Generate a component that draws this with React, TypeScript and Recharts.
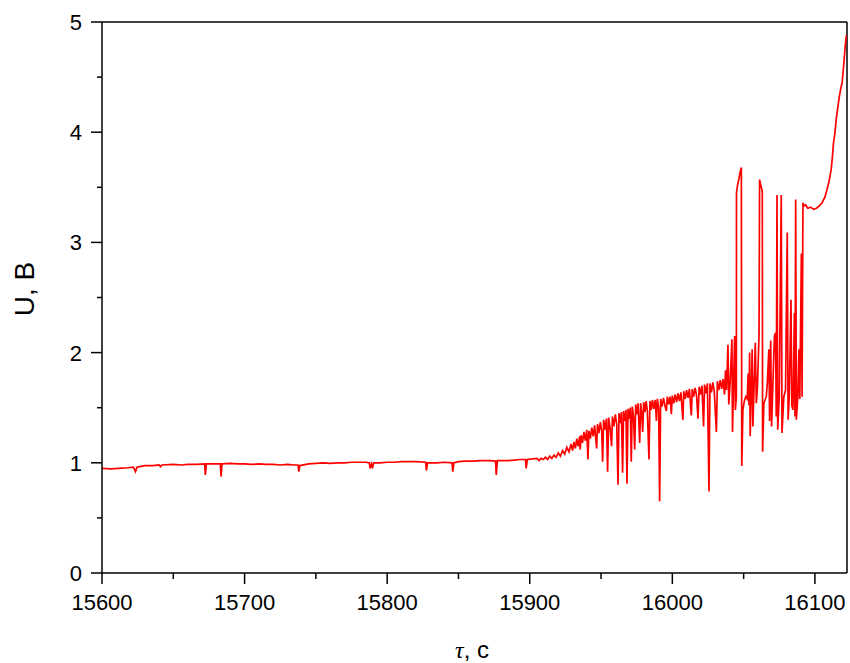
import React from "react";
import { LineChart, Line, XAxis, YAxis, ReferenceLine } from "recharts";

// [time (s), voltage (V)]
const plateauSeg: [number, number][] = [
  [15600, 0.95], [15606, 0.945], [15612, 0.95], [15618, 0.955], [15622, 0.96], [15623.5, 0.92], [15624.5, 0.96],
  [15630, 0.975], [15636, 0.975], [15640, 0.98], [15641, 0.965], [15642, 0.98], [15650, 0.985], [15656, 0.98],
  [15660, 0.985], [15666, 0.985], [15672, 0.99], [15672.5, 0.89], [15673.2, 0.99], [15678, 0.99], [15683, 0.99],
  [15683.5, 0.875], [15684.2, 0.99], [15690, 0.995], [15695, 0.99], [15700, 0.99], [15705, 0.985], [15710, 0.99],
  [15715, 0.985], [15720, 0.985], [15725, 0.98], [15730, 0.985], [15735, 0.98], [15737.5, 0.98], [15738, 0.92],
  [15738.8, 0.975], [15745, 0.99], [15750, 0.995], [15755, 1.0], [15760, 0.995], [15765, 1.0], [15770, 1.0],
  [15775, 1.005], [15780, 1.005], [15785, 1.005], [15787.5, 1.0], [15788, 0.95], [15789, 0.99], [15789.7, 0.95],
  [15790.5, 1.0], [15795, 1.0], [15800, 1.005], [15805, 1.005], [15810, 1.01], [15815, 1.01], [15820, 1.01],
  [15827, 1.005], [15827.5, 0.93], [15828.3, 1.0], [15835, 1.0], [15840, 1.005], [15845.5, 1.0], [15846, 0.92],
  [15846.8, 1.0], [15850, 1.01], [15855, 1.015], [15860, 1.015], [15865, 1.02], [15872, 1.02], [15876, 1.015],
  [15876.5, 0.89], [15877.3, 1.02], [15880, 1.02], [15885, 1.02], [15889, 1.025], [15893, 1.03], [15897, 1.03],
  [15897.5, 0.95], [15898.3, 1.03], [15902, 1.035],
];

const riseSeg: [number, number][] = [
  [15905, 1.04], [15906.5, 1.02], [15908, 1.04], [15909.5, 1.03], [15911, 1.05], [15912.5, 1.03], [15914, 1.06],
  [15915.5, 1.04], [15917, 1.07], [15918.5, 1.05], [15920, 1.09], [15921.5, 1.06], [15923, 1.11], [15924.5, 1.08],
  [15926, 1.14], [15927.5, 1.1], [15929, 1.17], [15930, 1.11], [15931, 1.19], [15932, 1.13], [15933, 1.22],
  [15934, 1.15], [15935, 1.24], [15935.4, 1.12], [15936, 1.25], [15937, 1.18], [15938, 1.28], [15939, 1.2],
  [15940, 1.3], [15940.8, 1.03], [15941.5, 1.29], [15942.5, 1.22], [15943.5, 1.32], [15944.5, 1.24], [15945.5, 1.34],
  [15946.9, 1.13], [15947.5, 1.35], [15948.5, 1.27], [15949.5, 1.37], [15950.5, 1.28], [15951.1, 1.01], [15951.8, 1.39],
  [15952.8, 1.3], [15953.8, 1.4], [15954.6, 0.92], [15955.3, 1.41], [15956.3, 1.32], [15957.4, 1.15], [15958, 1.42],
  [15959, 1.33], [15960, 1.44], [15961, 1.35], [15961.9, 0.8], [15962.6, 1.45], [15963.5, 1.36], [15964.3, 1.46],
  [15965.1, 0.91], [15965.8, 1.47], [15966.8, 1.38], [15967.5, 1.48], [15968.2, 0.81], [15968.9, 1.49], [15969.8, 1.4],
  [15970.5, 1.5], [15971.2, 1.01], [15971.9, 1.51], [15972.8, 1.42], [15973.6, 1.12], [15974.3, 1.53], [15975.2, 1.44],
  [15976, 1.54], [15977.1, 1.18], [15977.8, 1.54], [15978.5, 1.45], [15979.2, 1.28], [15979.9, 1.55], [15980.8, 1.46],
  [15981.6, 1.56], [15982.5, 1.47], [15983.6, 1.03], [15984.3, 1.56], [15985.2, 1.48], [15986, 1.57], [15987, 1.49],
  [15988, 1.57], [15988.8, 1.38], [15989.5, 1.58], [15990.4, 1.5], [15991.1, 0.65], [15991.8, 1.58], [15992.8, 1.51],
  [15993.8, 1.59], [15994.8, 1.52], [15995.8, 1.47], [15996.5, 1.6], [15997.5, 1.53], [15998.5, 1.6], [15999.3, 1.44],
  [16000, 1.61], [16001, 1.54], [16002, 1.62], [16003, 1.55], [16004, 1.63], [16005, 1.56], [16006, 1.64],
  [16007.4, 1.39], [16008, 1.65], [16009, 1.58], [16010, 1.66], [16011, 1.59], [16012, 1.67], [16013.3, 1.43],
  [16014, 1.67], [16015, 1.6], [16016, 1.68], [16017, 1.61], [16018, 1.4], [16018.8, 1.69], [16019.8, 1.62],
  [16020.8, 1.7], [16021.9, 1.33], [16022.6, 1.71], [16023.6, 1.63], [16024.6, 1.72], [16025.7, 0.74], [16026.4, 1.72],
  [16027.4, 1.64], [16028.4, 1.73], [16029.4, 1.65], [16030.9, 1.28], [16031.6, 1.74], [16032.6, 1.66], [16033.6, 1.75],
  [16034.6, 1.67], [16035.6, 1.76],
];

const burstSeg: [number, number][] = [
  [16036.6, 1.62], [16037.3, 1.84], [16038, 1.66], [16039, 2.07], [16039.6, 1.53], [16040.5, 1.72], [16041.8, 2.12],
  [16042.2, 1.28], [16042.9, 1.7], [16043.7, 2.15], [16044.2, 1.48], [16044.9, 1.6], [16045, 3.45], [16045.5, 3.5],
  [16046.2, 3.55], [16046.8, 3.58], [16047.4, 3.63], [16048, 3.66], [16048.4, 3.68], [16048.7, 0.97], [16049.5, 1.48],
  [16050.5, 1.56], [16051.5, 1.6], [16052.5, 1.58], [16053.2, 1.81], [16053.8, 1.52], [16054.2, 2.0], [16054.6, 1.24],
  [16055.3, 1.62], [16056, 2.03], [16056.5, 1.33], [16057.2, 1.64], [16058.2, 2.09], [16058.9, 1.54], [16059.6, 1.66],
  [16060.8, 2.15], [16061.2, 3.57], [16062, 3.52], [16062.6, 3.49], [16063.1, 3.46], [16063.3, 1.1], [16064.2, 1.54],
  [16065.9, 1.6], [16066.6, 1.72], [16067.7, 2.03], [16068.2, 1.38], [16069, 2.11], [16069.6, 1.33], [16070.4, 1.66],
  [16071.6, 2.15], [16072.4, 2.18], [16072.9, 1.42], [16073.4, 3.43], [16073.9, 1.3], [16075, 1.6], [16076.4, 3.43],
  [16076.9, 1.27], [16078.2, 1.6], [16079.4, 1.66], [16080.6, 3.09], [16081.2, 1.39], [16082, 1.6], [16083.2, 2.48],
  [16083.8, 1.52], [16084.6, 1.48], [16085.6, 2.36], [16086, 1.42], [16086.5, 3.39], [16087, 1.39], [16088, 1.6],
  [16088.8, 2.03], [16089.4, 1.58], [16090.5, 2.9], [16091, 1.6], [16091.6, 3.36],
];

const finalSeg: [number, number][] = [
  [16092.2, 3.33], [16093.5, 3.34], [16095, 3.31], [16097, 3.32], [16099, 3.3], [16101, 3.31], [16103, 3.33],
  [16105, 3.36], [16107, 3.41], [16108.5, 3.48], [16110, 3.56], [16111.4, 3.66], [16112.3, 3.78], [16113, 3.9],
  [16114, 3.99], [16114.9, 4.11], [16116, 4.22], [16117.2, 4.33], [16118.2, 4.4], [16119.1, 4.45], [16120, 4.58],
  [16120.7, 4.69], [16121.4, 4.8], [16122, 4.88],
];

const xTicks = [15600, 15650, 15700, 15750, 15800, 15850, 15900, 15950, 16000, 16050, 16100];
const yTicks = [0, 0.5, 1, 1.5, 2, 2.5, 3, 3.5, 4, 4.5, 5];
const xDomain: [number, number] = [15600, 16122.5];
const yDomain: [number, number] = [0, 5];

const data = [...plateauSeg, ...riseSeg, ...burstSeg, ...finalSeg].map(([t, u]) => ({ t, u }));

const FONT = "'Liberation Sans', Arial, Helvetica, sans-serif";
const AXIS = "#000";

const XTick = (props: any) => {
  const { x, y, payload } = props;
  const major = payload.value % 100 === 0;
  return (
    <g>
      <line x1={x} x2={x} y1={y} y2={y + (major ? 11 : 6)} stroke={AXIS} strokeWidth={1.5} />
      {major && (
        <text x={x} y={y + 21} dy="0.72em" textAnchor="middle" fontFamily={FONT} fontSize={22} fill="#000">
          {payload.value}
        </text>
      )}
    </g>
  );
};

const YTick = (props: any) => {
  const { x, y, payload } = props;
  const major = Number.isInteger(payload.value);
  return (
    <g>
      <line x1={x - (major ? 11 : 5)} x2={x} y1={y} y2={y} stroke={AXIS} strokeWidth={1.5} />
      {major && (
        <text x={x - 20} y={y} dy="0.36em" textAnchor="end" fontFamily={FONT} fontSize={22} fill="#000">
          {payload.value}
        </text>
      )}
    </g>
  );
};

const XTitle = () => (
  <text x={472} y={658} textAnchor="middle" fontFamily={FONT} fontSize={24} fill="#000">
    <tspan fontFamily="'Liberation Serif', 'DejaVu Serif', serif" fontStyle="italic">τ</tspan>
    <tspan>, с</tspan>
  </text>
);

const YTitle = () => (
  <text x={34} y={289} transform="rotate(-90, 34, 289)" textAnchor="middle" fontFamily={FONT} fontSize={28} fill="#000">
    U, В
  </text>
);

export default function App() {
  return (
    <div style={{ position: "absolute", left: 0, top: 0, width: 850, height: 663, background: "#fff" }}>
      <LineChart width={850} height={663} data={data} margin={{ top: 22, right: 3, left: 0, bottom: 0 }}>
        <XAxis
          dataKey="t"
          type="number"
          domain={xDomain}
          ticks={xTicks}
          interval={0}
          allowDataOverflow
          height={90}
          tickSize={0}
          tickMargin={0}
          tickLine={false}
          tick={(p: any) => <XTick {...p} />}
          axisLine={{ stroke: AXIS, strokeWidth: 1.5 }}
          label={{ content: () => <XTitle /> }}
        />
        <YAxis
          type="number"
          domain={yDomain}
          ticks={yTicks}
          interval={0}
          allowDataOverflow
          width={102}
          tickSize={0}
          tickMargin={0}
          tickLine={false}
          tick={(p: any) => <YTick {...p} />}
          axisLine={{ stroke: AXIS, strokeWidth: 1.5 }}
          label={{ content: () => <YTitle /> }}
        />
        <ReferenceLine y={5} stroke={AXIS} strokeWidth={1.5} />
        <ReferenceLine x={16122.5} stroke={AXIS} strokeWidth={1.5} />
        <Line
          type="linear"
          dataKey="u"
          stroke="#ff0000"
          strokeWidth={1.7}
          dot={false}
          isAnimationActive={false}
        />
      </LineChart>
    </div>
  );
}
